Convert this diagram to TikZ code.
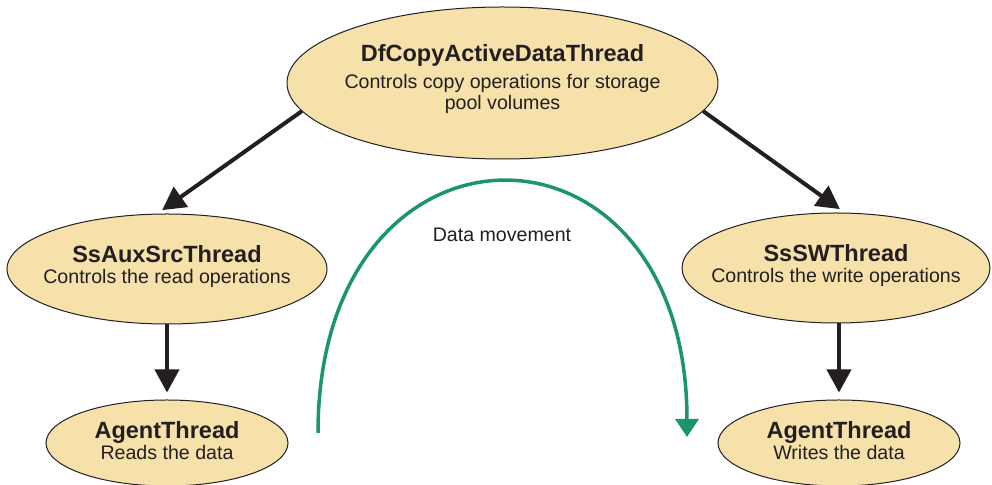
\documentclass[tikz,border=0pt]{standalone}
\usepackage{fontspec}
\setmainfont{Liberation Sans}
\usetikzlibrary{shapes.geometric,arrows.meta}

\definecolor{threadfill}{RGB}{246,225,171}
\definecolor{inkgray}{RGB}{35,31,32}
\definecolor{movegreen}{RGB}{28,148,108}

\tikzset{
  thread/.style={ellipse,draw=inkgray,line width=0.5pt,fill=threadfill,inner sep=0pt},
  threadtext/.style={align=center,inner sep=0pt,text=inkgray,font=\fontsize{9.8}{10.5}\selectfont},
  flow/.style={line width=2pt,draw=inkgray,-{Triangle[width=12pt,length=11.5pt]}},
}
\newcommand{\threadname}[1]{{\fontsize{11.75}{10.5}\selectfont\bfseries #1}}

\begin{document}
\begin{tikzpicture}[x=0.5pt,y=-0.5pt]
        \useasboundingbox (0,0) rectangle (992,485);

        \node[thread,minimum width=215.5pt,minimum height=76pt] (dfcopy) at (502.5,83) {};
        \node[threadtext] (dfcopy-text) at ([yshift=2pt]dfcopy.center)
          {\threadname{DfCopyActiveDataThread}\\[3pt]Controls copy operations for storage\\pool volumes};
        \node[thread,minimum width=160pt,minimum height=55pt] (auxsrc) at (167,269) {};
        \node[threadtext] (auxsrc-text) at ([yshift=1pt]auxsrc.center) {\threadname{SsAuxSrcThread}\\Controls the read operations};
        \node[thread,minimum width=154pt,minimum height=55pt] (sswrite) at (836,268) {};
        \node[threadtext] (sswrite-text) at ([yshift=1pt]sswrite.center) {\threadname{SsSWThread}\\Controls the write operations};
        \node[thread,minimum width=121pt,minimum height=43pt] (agentread) at (167,443) {};
        \node[threadtext] (agentread-text) at ([yshift=1pt]agentread.center) {\threadname{AgentThread}\\Reads the data};
        \node[thread,minimum width=121pt,minimum height=43pt] (agentwrite) at (839,443) {};
        \node[threadtext] (agentwrite-text) at ([yshift=1pt]agentwrite.center) {\threadname{AgentThread}\\Writes the data};

        \draw[flow,shorten >=3pt] (dfcopy.188) -- (auxsrc.100);
        \draw[flow,shorten >=3pt] (dfcopy.352) -- (sswrite.81);
        \draw[flow,shorten >=3.5pt] (auxsrc.south) -- (agentread.north);
        \draw[flow,shorten >=3.5pt] (agentwrite.north |- sswrite.south) -- (agentwrite.north);

        % data moves from the reading agent to the writing one
        \coordinate (movestart) at (318,433);
        \coordinate (moveend) at (687,437);
        \draw[movegreen,line width=1.75pt,-{Triangle[width=11.5pt,length=9pt]}]
          (movestart) .. controls (318,98) and (687,98) .. (moveend);
        \node[threadtext] (movelabel) at (502,235) {Data movement};
      \end{tikzpicture}
\end{document}
